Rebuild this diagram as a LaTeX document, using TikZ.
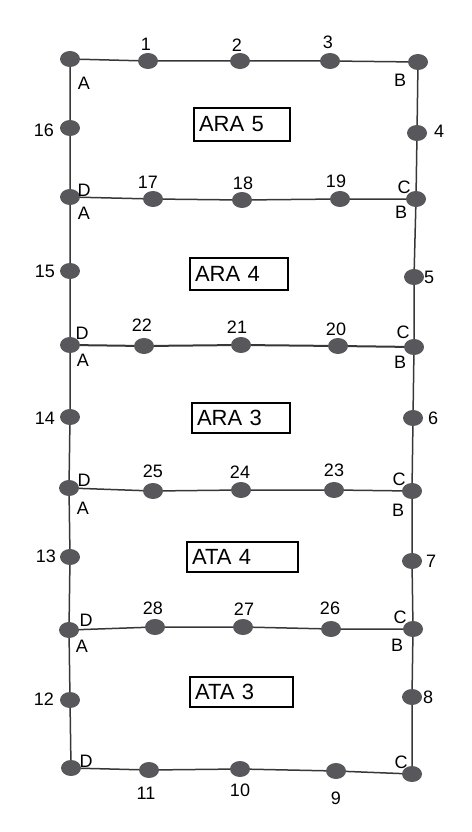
\documentclass[tikz,border=0pt]{standalone}
\usepackage{fontspec}
\setmainfont{Liberation Sans}
\usetikzlibrary{shapes.geometric, positioning}
\definecolor{dotcolor}{RGB}{88,88,92}
\definecolor{linecolor}{RGB}{55,55,55}

\begin{document}
\begin{tikzpicture}[
    x=1pt, y=-1pt,
    dot/.style={ellipse, fill=dotcolor, minimum width=20pt, minimum height=16pt, inner sep=0pt},
    num/.style={font=\fontsize{18}{18}\selectfont, inner sep=0pt},
    corner/.style={font=\fontsize{18}{18}\selectfont, inner sep=0pt},
    zone/.style={draw, line width=1.1pt, inner xsep=5pt, minimum height=31pt, align=left, font=\fontsize{22}{22}\selectfont},
    edge/.style={line width=1.5pt, linecolor}
]
    \useasboundingbox (0,0) rectangle (471,832);

    % Left corners
    \node[dot] (lc0) at (70,59) {};
    \node[dot] (lc1) at (70,197) {};
    \node[dot] (lc2) at (70,345) {};
    \node[dot] (lc3) at (69,488) {};
    \node[dot] (lc4) at (69,630) {};
    \node[dot] (lc5) at (71,768) {};

    % Right corners
    \node[dot] (rc0) at (418,62) {};
    \node[dot] (rc1) at (416,199) {};
    \node[dot] (rc2) at (414,347) {};
    \node[dot] (rc3) at (412,491) {};
    \node[dot] (rc4) at (413,629) {};
    \node[dot] (rc5) at (412,774) {};

    % Points on the left side
    \node[dot] (p16) at (70,128) {};
    \node[dot] (p15) at (70,271) {};
    \node[dot] (p14) at (70,417) {};
    \node[dot] (p13) at (70,557) {};
    \node[dot] (p12) at (70,700) {};

    % Points on the right side
    \node[dot] (p4) at (417,133) {};
    \node[dot] (p5) at (414,277) {};
    \node[dot] (p6) at (413,418) {};
    \node[dot] (p7) at (412,561) {};
    \node[dot] (p8) at (412,697) {};

    % Points on the rows
    \node[dot] (p1) at (148,61) {};
    \node[dot] (p2) at (240,61) {};
    \node[dot] (p3) at (330,61) {};
    \node[dot] (p17) at (153,199) {};
    \node[dot] (p18) at (242,200) {};
    \node[dot] (p19) at (340,199) {};
    \node[dot] (p22) at (144,346) {};
    \node[dot] (p21) at (241,345) {};
    \node[dot] (p20) at (338,346) {};
    \node[dot] (p25) at (153,491) {};
    \node[dot] (p24) at (241,490) {};
    \node[dot] (p23) at (334,490) {};
    \node[dot] (p28) at (155,627) {};
    \node[dot] (p27) at (243,627) {};
    \node[dot] (p26) at (331,629) {};
    \node[dot] (p11) at (149,770) {};
    \node[dot] (p10) at (240,769) {};
    \node[dot] (p9) at (336,771) {};

    % Lines
    \draw[edge] (lc0) -- (p16) -- (lc1) -- (p15) -- (lc2) -- (p14) -- (lc3) -- (p13) -- (lc4) -- (p12) -- (lc5);
    \draw[edge] (rc0) -- (p4) -- (rc1) -- (p5) -- (rc2) -- (p6) -- (rc3) -- (p7) -- (rc4) -- (p8) -- (rc5);
    \draw[edge] (lc0) -- (p1) -- (p2) -- (p3) -- (rc0);
    \draw[edge] (lc1) -- (p17) -- (p18) -- (p19) -- (rc1);
    \draw[edge, line width=2pt] (lc2) -- (p22) -- (p21) -- (p20) -- (rc2);
    \draw[edge] (lc3) -- (p25) -- (p24) -- (p23) -- (rc3);
    \draw[edge] (lc4) -- (p28) -- (p27) -- (p26) -- (rc4);
    \draw[edge] (lc5) -- (p11) -- (p10) -- (p9) -- (rc5);

    % Numbers
    \node[num] (t1) at (146,44) {1};
    \node[num] (t2) at (237,45) {2};
    \node[num] (t3) at (328,42) {3};
    \node[num] (t4) at (439,131) {4};
    \node[num] (t5) at (429,277) {5};
    \node[num] (t6) at (433,418) {6};
    \node[num] (t7) at (431,561) {7};
    \node[num] (t8) at (428,697) {8};
    \node[num] (t9) at (336,798) {9};
    \node[num] (t10) at (240,790) {10};
    \node[num] (t11) at (146,793) {11};
    \node[num] (t12) at (44,699) {12};
    \node[num] (t13) at (46,556) {13};
    \node[num] (t14) at (45,418) {14};
    \node[num] (t15) at (45,271) {15};
    \node[num] (t16) at (44,130) {16};
    \node[num] (t17) at (148,182) {17};
    \node[num] (t18) at (243,183) {18};
    \node[num] (t19) at (336,181) {19};
    \node[num] (t20) at (336,329) {20};
    \node[num] (t21) at (237,327) {21};
    \node[num] (t22) at (142,325) {22};
    \node[num] (t23) at (334,470) {23};
    \node[num] (t24) at (240,472) {24};
    \node[num] (t25) at (153,471) {25};
    \node[num] (t26) at (330,608) {26};
    \node[num] (t27) at (244,609) {27};
    \node[num] (t28) at (153,608) {28};

    % Corner letters
    \node[corner] (ca0) at (84,83) {A};
    \node[corner] (cb0) at (400,80) {B};
    \node[corner] (cd1) at (84,190) {D};
    \node[corner] (ca1) at (84,213) {A};
    \node[corner] (cc1) at (404,187) {C};
    \node[corner] (cb1) at (401,212) {B};
    \node[corner] (cd2) at (82,333) {D};
    \node[corner] (ca2) at (83,360) {A};
    \node[corner] (cc2) at (403,332) {C};
    \node[corner] (cb2) at (400,362) {B};
    \node[corner] (cd3) at (84,480) {D};
    \node[corner] (ca3) at (83,508) {A};
    \node[corner] (cc3) at (399,479) {C};
    \node[corner] (cb3) at (398,510) {B};
    \node[corner] (cd4) at (86,620) {D};
    \node[corner] (ca4) at (82,646) {A};
    \node[corner] (cc4) at (400,617) {C};
    \node[corner] (cb4) at (397,645) {B};
    \node[corner] (cd5) at (86,761) {D};
    \node[corner] (cc5) at (401,762) {C};

    % Zones
    \node[zone, text width=86pt, minimum height=33pt] (ara5) at (242,124.5) {ARA 5};
    \node[zone, text width=88pt, minimum height=32pt] (ara4) at (239,274) {ARA 4};
    \node[zone, text width=88pt, minimum height=30pt] (ara3) at (241,418) {ARA 3};
    \node[zone, text width=101pt, minimum height=30pt] (ata4) at (242.5,557) {ATA 4};
    \node[zone, text width=93pt, minimum height=30pt] (ata3) at (241.5,692) {ATA 3};
\end{tikzpicture}
\end{document}
